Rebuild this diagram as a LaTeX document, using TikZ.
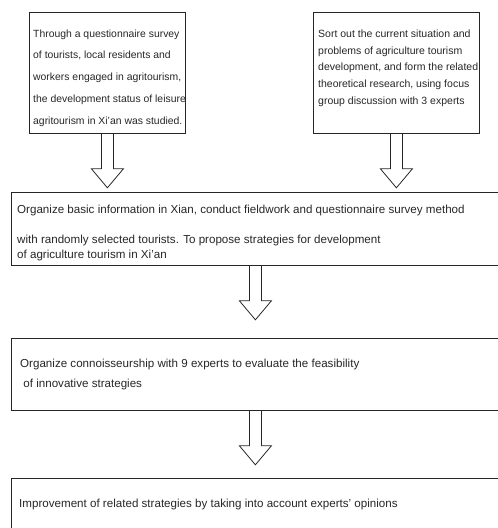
\documentclass[tikz,border=0pt]{standalone}
\usepackage{fontspec}
\setmainfont{Liberation Sans}

\tikzset{
  box/.style={draw=black!85, line width=0.8pt, rectangle, inner sep=0pt, anchor=north west},
  boxtext/.style={inner sep=0pt, anchor=north west, align=left, text=black!85},
  hollowarrow/.pic={
    \draw[black!85, line width=0.8pt, line join=miter]
      (-6,0) -- (-6,35) -- (-16,35) -- (0,54) -- (16,35) -- (6,35) -- (6,0);
  }
}

\begin{document}
\begin{tikzpicture}[x=1pt,y=-1pt]
\useasboundingbox (0,0) rectangle (498,528);
\clip (0,0) rectangle (498,528);

% top row
\node[box, minimum width=156pt, minimum height=121pt] (survey) at (29,12) {};
\node[boxtext, font=\fontsize{10.4}{21.75}\selectfont] (surveytext) at (33,29.5)
  {Through a questionnaire survey\\ of tourists, local residents and\\ workers engaged in agritourism,\\ the development status of leisure\\ agritourism in Xi'an was studied.};

\node[box, minimum width=166pt, minimum height=121pt] (focus) at (313,12) {};
\node[boxtext, font=\fontsize{10.5}{16.75}\selectfont] (focustext) at (318,29.5)
  {Sort out the current situation and\\ problems of agriculture tourism\\ development, and form the related\\ theoretical research, using focus\\ group discussion with 3 experts};

% middle
\node[box, minimum width=488pt, minimum height=73pt] (fieldwork) at (11,192) {};
\node[boxtext, font=\fontsize{11.6}{15}\selectfont] (fieldworktext) at (17,205)
  {Organize basic information in Xian, conduct fieldwork and questionnaire survey method\\[15pt] with randomly selected tourists. To propose strategies for development\\ of agriculture tourism in Xi'an};

\node[box, minimum width=488pt, minimum height=72pt] (experts) at (11,338) {};
\node[boxtext, font=\fontsize{11.6}{20}\selectfont] (expertstext) at (20,359)
  {Organize connoisseurship with 9 experts to evaluate the feasibility\\ \ of innovative strategies};

% bottom
\node[box, minimum width=488pt, minimum height=62pt] (improve) at (11,478) {};
\node[boxtext, font=\fontsize{11.6}{14}\selectfont] (improvetext) at (19,499)
  {Improvement of related strategies by taking into account experts' opinions};

% arrows
\pic at (survey.south) {hollowarrow};
\pic at (focus.south) {hollowarrow};
\pic at (fieldwork.south) {hollowarrow};
\pic at (experts.south) {hollowarrow};
\end{tikzpicture}
\end{document}
